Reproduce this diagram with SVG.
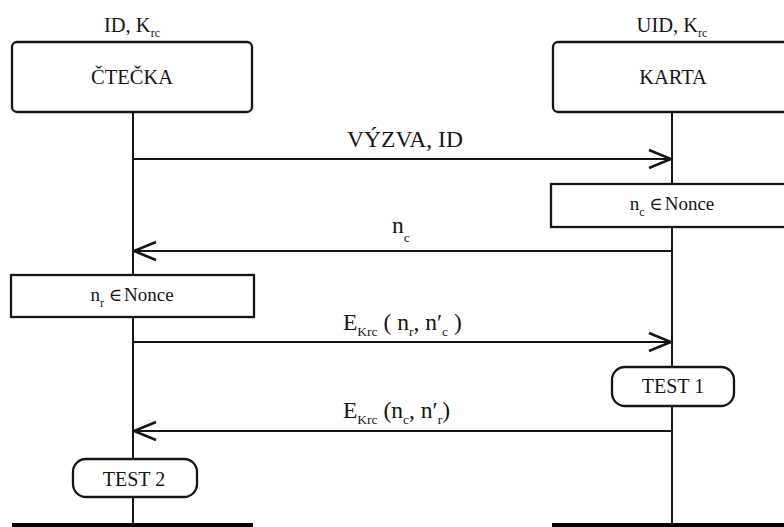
<svg xmlns="http://www.w3.org/2000/svg" width="784" height="527" viewBox="0 0 784 527">
<defs>
<style>
.t{font-family:'Liberation Serif','Times New Roman',Times,serif;fill:#151515}
.hd{font-size:20.5px}
.msg{font-size:23.5px}
.box{font-size:19px}
.tb{font-size:20px}
.sub{font-size:12px}
.msub{font-size:13.5px}
.el{font-family:'DejaVu Serif',serif;font-size:18px}
.frame{fill:#fff;stroke:#151515;stroke-width:2.3}
.life{stroke:#151515;stroke-width:2;fill:none}
.bar{stroke:#000;stroke-width:6}
</style>
<marker id="open" markerUnits="userSpaceOnUse" viewBox="-24 -11 26 22" refX="0" refY="0" markerWidth="26" markerHeight="22" orient="auto">
<path d="M-22,-9 L0,0 L-22,9" fill="none" stroke="#151515" stroke-width="2.6"/>
</marker>
</defs>
<rect width="784" height="527" fill="#fff"/>

<g id="lifelines">
<line class="life" x1="133" y1="112" x2="133" y2="524"/>
<line class="life" x1="672" y1="112" x2="672" y2="524"/>
<line class="bar" x1="12" y1="526" x2="253" y2="526"/>
<line class="bar" x1="552" y1="526" x2="784" y2="526"/>
</g>

<g id="ctecka">
<text class="t hd" x="132" y="32" text-anchor="middle">ID, K<tspan class="sub" dy="5">rc</tspan></text>
<rect class="frame" x="12" y="42" width="240" height="70" rx="5"/>
<text class="t hd" x="132" y="84" text-anchor="middle">ČTEČKA</text>
</g>

<g id="karta">
<text class="t hd" x="672" y="32" text-anchor="middle">UID, K<tspan class="sub" dy="5">rc</tspan></text>
<rect class="frame" x="553" y="42" width="245" height="70" rx="5"/>
<text class="t hd" x="673" y="84" text-anchor="middle">KARTA</text>
</g>

<g id="nonce-c">
<rect class="frame" x="551" y="184" width="245" height="43"/>
<text class="t box" x="672" y="210" text-anchor="middle">n<tspan class="sub" dy="6">c</tspan><tspan dy="-6"> </tspan><tspan class="el">∈</tspan><tspan dx="2">Nonce</tspan></text>
</g>

<g id="nonce-r">
<rect class="frame" x="11" y="275" width="243" height="42"/>
<text class="t box" x="132" y="301" text-anchor="middle">n<tspan class="sub" dy="6">r</tspan><tspan dy="-6"> </tspan><tspan class="el">∈</tspan><tspan dx="2">Nonce</tspan></text>
</g>

<g id="test1">
<rect class="frame" x="612" y="367" width="122" height="39" rx="13"/>
<text class="t tb" x="673" y="393" text-anchor="middle">TEST 1</text>
</g>

<g id="test2">
<rect class="frame" x="73" y="459" width="124" height="38" rx="13"/>
<text class="t tb" x="134" y="486" text-anchor="middle">TEST 2</text>
</g>

<g id="connectors">
<line class="life" x1="133" y1="159" x2="671" y2="159" marker-end="url(#open)"/>
<text class="t msg" x="405" y="147" text-anchor="middle">VÝZVA, ID</text>

<line class="life" x1="672" y1="251" x2="134" y2="251" marker-end="url(#open)"/>
<text class="t msg" x="392" y="233">n<tspan class="msub" dy="9">c</tspan></text>

<line class="life" x1="133" y1="342" x2="671" y2="342" marker-end="url(#open)"/>
<text class="t msg" x="343" y="330">E<tspan class="msub" dy="6">Krc</tspan><tspan dy="-6"> ( n</tspan><tspan class="msub" dy="6">r</tspan><tspan dy="-6">, n′</tspan><tspan class="msub" dy="6">c</tspan><tspan dy="-6"> )</tspan></text>

<line class="life" x1="672" y1="431" x2="134" y2="431" marker-end="url(#open)"/>
<text class="t msg" x="343" y="418">E<tspan class="msub" dy="6">Krc</tspan><tspan dy="-6"> (n</tspan><tspan class="msub" dy="6">c</tspan><tspan dy="-6">, n′</tspan><tspan class="msub" dy="6">r</tspan><tspan dy="-6">)</tspan></text>
</g>
</svg>
